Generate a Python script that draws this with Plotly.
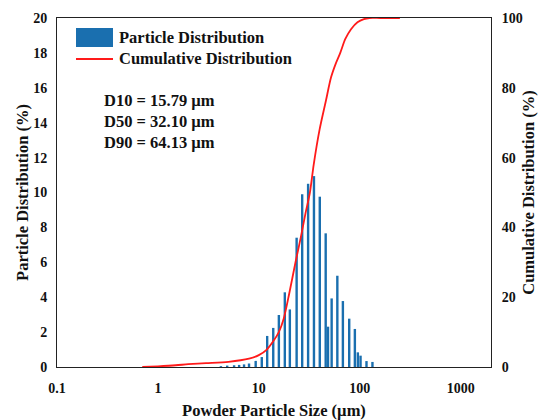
import plotly.graph_objects as go

# Differential particle size distribution (bin size in µm, volume %)
bin_sizes = [4.21, 4.86, 5.69, 6.38, 7.14, 8.0, 9.31, 10.7, 12.1, 13.9, 15.8, 18.1,
             20.3, 23.7, 26.9, 30.8, 35.2, 40.2, 46.0, 48.5, 52.7, 60.0, 68.1, 78.7,
             89.5, 95.8, 101.9, 116.7, 133.7]
bin_pct = [0.05, 0.08, 0.10, 0.12, 0.15, 0.20, 0.35, 0.57, 1.78, 2.24, 2.98, 4.28,
           3.30, 7.41, 9.90, 10.50, 10.94, 9.76, 7.66, 2.31, 3.93, 5.23, 3.78, 2.77,
           2.18, 0.84, 0.65, 0.34, 0.29]

# Cumulative distribution (µm, %)
cum_sizes = [0.7, 1, 1.5, 2, 3, 5, 8, 10, 12, 14, 15.79, 17.7, 20, 23.1, 26, 29,
             32.1, 35, 40, 46, 52, 58, 64.13, 72, 82, 95, 110, 125, 160, 250]
cum_pct = [0, 0.2, 0.5, 0.8, 1.1, 1.5, 2.4, 3.4, 5, 7.5, 10, 14, 21, 30, 37, 44,
           50, 58, 68, 76, 83, 87, 90, 94, 96.8, 98.8, 99.7, 100, 100, 100]

x_ticks = [0.1, 1, 10, 100, 1000]
d_labels = ["D10 = 15.79 µm", "D50 = 32.10 µm", "D90 = 64.13 µm"]

BLUE = "#1a6faf"
RED = "#ff1a1a"
FONT = "Liberation Serif"

# vertical stems for the histogram bins
stem_x, stem_y = [], []
for s, v in zip(bin_sizes, bin_pct):
    stem_x += [s, s, None]
    stem_y += [0, v, None]

fig = go.Figure()
fig.add_trace(go.Scatter(x=stem_x, y=stem_y, mode="lines",
                         line=dict(color=BLUE, width=2.4),
                         name="Particle Distribution", showlegend=False,
                         hoverinfo="skip"))
fig.add_trace(go.Scatter(x=cum_sizes, y=cum_pct, mode="lines", yaxis="y2",
                         line=dict(color=RED, width=1.8, shape="spline", smoothing=0.8),
                         name="Cumulative Distribution", showlegend=False))

tick_font = dict(family=FONT, size=14, color="#111", weight="bold")
title_font = dict(family=FONT, size=16.5, color="#111", weight="bold")

fig.update_layout(
    width=538, height=420,
    margin=dict(l=57, r=47, t=18, b=53),
    paper_bgcolor="white", plot_bgcolor="white",
    xaxis=dict(type="log", range=[-1, 3.301], tickvals=x_ticks,
               ticktext=[str(v) for v in x_ticks], showgrid=False, zeroline=False,
               showline=True, linecolor="#222", linewidth=1, mirror=True,
               ticks="", tickfont=tick_font, ticklabelstandoff=8, automargin=False,
               title=dict(text="Powder Particle Size (µm)", font=title_font, standoff=10)),
    yaxis=dict(range=[0, 20], dtick=2, showgrid=False, zeroline=False,
               showline=True, linecolor="#222", linewidth=1, ticks="",
               tickfont=tick_font, ticklabelstandoff=6, automargin=False,
               title=dict(text="Particle Distribution (%)", font=title_font, standoff=0)),
    yaxis2=dict(range=[0, 100], dtick=20, overlaying="y", side="right",
                showgrid=False, zeroline=False, showline=True, linecolor="#222",
                linewidth=1, ticks="", tickfont=tick_font, ticklabelstandoff=7,
                automargin=False,
                title=dict(text="Cumulative Distribution (%)", font=title_font, standoff=12)),
    showlegend=False,
)

# legend drawn in paper coordinates
px = lambda x: (x - 57) / 434
py = lambda y: (367 - y) / 349
fig.add_shape(type="rect", xref="paper", yref="paper",
              x0=px(76), x1=px(113), y0=py(47), y1=py(28),
              fillcolor=BLUE, line=dict(width=0))
fig.add_shape(type="line", xref="paper", yref="paper",
              x0=px(76), x1=px(113), y0=py(59), y1=py(59),
              line=dict(color=RED, width=1.8))
legend_font = dict(family=FONT, size=16.5, color="#111", weight="bold")
fig.add_annotation(xref="paper", yref="paper", x=px(117), y=py(37),
                   xanchor="left", yanchor="middle", showarrow=False,
                   text="Particle Distribution", font=legend_font)
fig.add_annotation(xref="paper", yref="paper", x=px(117), y=py(59),
                   xanchor="left", yanchor="middle", showarrow=False,
                   text="Cumulative Distribution", font=legend_font)
for i, t in enumerate(d_labels):
    fig.add_annotation(xref="paper", yref="paper", x=px(102), y=py(101 + 20.5 * i),
                       xanchor="left", yanchor="middle", showarrow=False,
                       text=t, font=legend_font)

fig.write_html("out.html")
